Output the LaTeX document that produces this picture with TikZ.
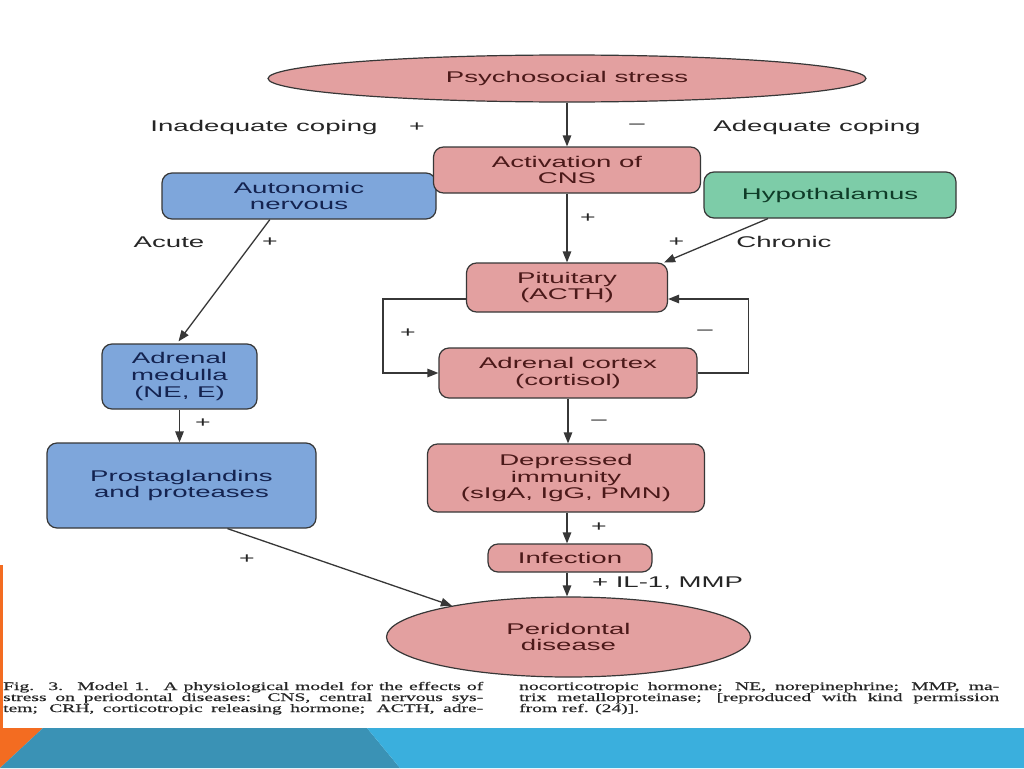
\documentclass[tikz,border=0pt]{standalone}
\usepackage{fontspec}
\setmainfont{Liberation Sans}[FakeStretch=1.78]
\newfontfamily\capfont{Liberation Serif}[FakeStretch=1.7,FakeBold=0.5]
\usetikzlibrary{arrows.meta,shapes.geometric,calc}
\definecolor{pinkf}{RGB}{227,160,160}
\definecolor{bluef}{RGB}{126,166,219}
\definecolor{greenf}{RGB}{125,204,168}
\definecolor{edgec}{RGB}{55,55,55}
\definecolor{pinkt}{RGB}{75,25,25}
\definecolor{bluet}{RGB}{20,35,80}
\definecolor{greent}{RGB}{15,60,40}
\definecolor{orangec}{RGB}{243,108,33}
\definecolor{tealc}{RGB}{58,146,181}
\definecolor{skyc}{RGB}{58,175,221}
\newcommand\capline[1]{\hbox to 480pt{\spaceskip=0.25em plus 1em minus 0.08em\relax #1}}
\begin{document}
\begin{tikzpicture}[x=1pt,y=-1pt,
  every node/.style={font=\fontsize{15.5}{16.8}\selectfont, inner sep=0pt, align=center},
  boxbase/.style={draw=edgec, line width=1.2pt, rounded corners=10pt},
  pbox/.style={boxbase, fill=pinkf, text=pinkt},
  bbox/.style={boxbase, fill=bluef, text=bluet},
  gbox/.style={boxbase, fill=greenf, text=greent},
  pell/.style={ellipse, draw=edgec, line width=1.2pt, fill=pinkf, text=pinkt},
  arr/.style={draw=edgec, line width=1.3pt, -{Triangle[length=11pt,width=8.5pt]}},
  fb/.style={draw=edgec, line width=1.1pt},
  lbl/.style={text=black!85},
  sgn/.style={text=black!85, font=\fontsize{15}{15}\selectfont},
  captxt/.style={font=\capfont\fontsize{11.5}{10.5}\selectfont, text=black!85, anchor=base west, align=left}
]
\useasboundingbox (0,0) rectangle (1024,768);
\fill[white] (0,0) rectangle (1024,768);

% slide decoration
\fill[orangec] (0,565) rectangle (2.5,728);
\fill[orangec] (0,728) -- (43,728) -- (0,768) -- cycle;
\fill[tealc] (43,728) -- (367,728) -- (400,768) -- (0,768) -- cycle;
\fill[skyc] (367,728) -- (1024,728) -- (1024,768) -- (400,768) -- cycle;

% nodes
\node[pell, minimum width=598pt, minimum height=47pt] (ps) at (567,78.5) {Psychosocial stress};
\node[bbox, minimum width=274pt, minimum height=46pt] (auto) at (299,196) {Autonomic\\nervous};
\node[pbox, minimum width=267pt, minimum height=46pt] (act) at (567,170) {Activation of\\CNS};
\node[gbox, minimum width=252pt, minimum height=46pt] (hyp) at (830,195) {Hypothalamus};
\node[pbox, minimum width=201pt, minimum height=49pt] (pit) at (567,287.5) {Pituitary\\(ACTH)};
\node[pbox, minimum width=258pt, minimum height=50pt] (cor) at (568,373) {Adrenal cortex\\(cortisol)};
\node[pbox, minimum width=277pt, minimum height=68pt] (dep) at (566,478) {Depressed\\immunity\\(sIgA, IgG, PMN)};
\node[pbox, minimum width=164pt, minimum height=28pt] (inf) at (570,558) {Infection};
\node[pell, minimum width=364pt, minimum height=80pt] (per) at (568.5,637) {Peridontal\\disease};
\node[bbox, minimum width=155pt, minimum height=65pt] (med) at (179.5,376.5) {Adrenal\\medulla\\(NE, E)};
\node[bbox, minimum width=269pt, minimum height=85pt] (pro) at (181.5,485.5) {Prostaglandins\\and proteases};

% labels
\node[lbl] (inad) at (264,127) {Inadequate coping};
\node[sgn] (p1) at (417,127) {+};
\node[lbl] (m1) at (637,126) {–};
\node[lbl] (adeq) at (817,127) {Adequate coping};
\node[sgn] (p2) at (588,218) {+};
\node[lbl] (acute) at (169,242) {Acute};
\node[sgn] (p3) at (270,242) {+};
\node[sgn] (p4) at (676.5,242) {+};
\node[lbl] (chron) at (784,242) {Chronic};
\node[sgn] (p5) at (408,333) {+};
\node[lbl] (m2) at (705,332) {–};
\node[lbl] (m3) at (599,422) {–};
\node[sgn] (p6) at (203,423) {+};
\node[sgn] (p7) at (599,527) {+};
\node[lbl] (il) at (667.5,583) {+ IL-1, MMP};
\node[sgn] (p8) at (247,559) {+};

% connectors
\draw[arr] (ps.south) -- (ps.south |- act.north);
\draw[arr] (act.south) -- (act.south |- pit.north);
\draw[arr] (cor.south) -- (cor.south |- dep.north);
\draw[arr] ($(dep.south)+(1,0)$) -- ($(dep.south |- inf.north)+(1,0)$);
\draw[arr] ($(inf.south)+(-3,0)$) -- ($(inf.south |- per.north)+(-3,0)$);
\draw[arr] (med.south) -- (med.south |- pro.north);
\draw[arr] ($(auto.south west)!0.394!(auto.south east)$) -- ($(med.north)+(-1,-2)$);
\draw[arr] ($(hyp.south west)!0.255!(hyp.south east)$) -- ($(pit.north east)+(-4,0)$);
\draw[arr] ($(pro.south west)!0.67!(pro.south east)$) -- (per.165);
\draw[fb, arr] ($(pit.west)+(0,11.5)$) -- ++(-83,0) |- (cor.west);
\draw[fb, arr] (cor.east) -- ++(51,0) |- ($(pit.east)+(0,11.5)$);

% caption
\node[captxt] (c1) at (3,690) {\capline{Fig. 3. Model 1. A physiological model for the effects of}};
\node[captxt] (c2) at (3,701) {\capline{stress on periodontal diseases: CNS, central nervous sys-}};
\node[captxt] (c3) at (3,712) {\capline{tem; CRH, corticotropic releasing hormone; ACTH, adre-}};
\node[captxt] (c4) at (519,690) {\capline{nocorticotropic hormone; NE, norepinephrine; MMP, ma-}};
\node[captxt] (c5) at (519,701) {\capline{trix metalloproteinase; [reproduced with kind permission}};
\node[captxt] (c6) at (519,712) {from ref. (24)].};
\end{tikzpicture}
\end{document}
